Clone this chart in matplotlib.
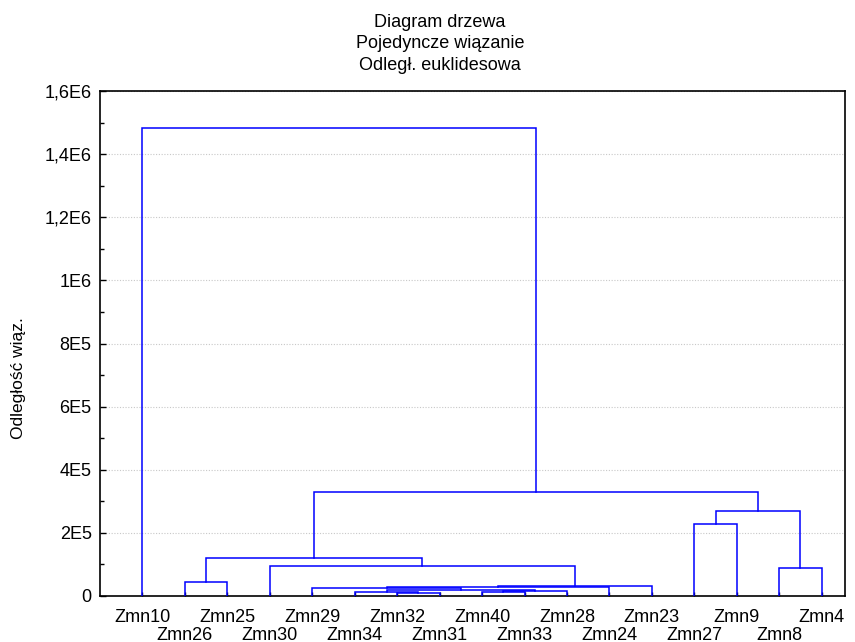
import matplotlib
matplotlib.use("Agg")
import matplotlib.pyplot as plt

plt.rcParams['font.family'] = ['Liberation Sans', 'DejaVu Sans']

# leaf order along the x axis
leaves = ['Zmn10', 'Zmn26', 'Zmn25', 'Zmn30', 'Zmn29', 'Zmn34', 'Zmn32', 'Zmn31',
          'Zmn40', 'Zmn33', 'Zmn28', 'Zmn24', 'Zmn23', 'Zmn27', 'Zmn9', 'Zmn8', 'Zmn4']

# single linkage merges; clusters are named c0, c1, ... in merge order
link_left = ['Zmn32', 'Zmn40', 'Zmn34', 'c1', 'c2', 'Zmn29', 'c5', 'c6',
             'Zmn26', 'Zmn8', 'Zmn30', 'c8', 'Zmn27', 'c12', 'c11', 'Zmn10']
link_right = ['Zmn31', 'Zmn33', 'c0', 'Zmn28', 'c3', 'c4', 'Zmn24', 'Zmn23',
              'Zmn25', 'Zmn4', 'c7', 'c10', 'Zmn9', 'c9', 'c13', 'c14']
link_height = [1.0e4, 1.2e4, 1.4e4, 1.6e4, 1.9e4, 2.6e4, 2.9e4, 3.3e4,
               4.5e4, 9.0e4, 9.6e4, 1.21e5, 2.28e5, 2.69e5, 3.3e5, 1.483e6]

yticks = [0, 2e5, 4e5, 6e5, 8e5, 1e6, 1.2e6, 1.4e6, 1.6e6]
ytick_labels = ['0', '2E5', '4E5', '6E5', '8E5', '1E6', '1,2E6', '1,4E6', '1,6E6']

fig = plt.figure(figsize=(8.55, 6.42), dpi=100)
ax = fig.add_axes([100 / 855, 1 - 596 / 642, 745 / 855, 505 / 642])

# node positions: leaves at their index, height 0
pos = {name: (i, 0.0) for i, name in enumerate(leaves)}
for k, (l, r, h) in enumerate(zip(link_left, link_right, link_height)):
    xl, yl = pos[l]
    xr, yr = pos[r]
    ax.plot([xl, xl, xr, xr], [yl, h, h, yr], color='#0000FF', lw=1.1,
            solid_joinstyle='miter', zorder=3)
    pos['c%d' % k] = ((xl + xr) / 2, h)

ax.set_xlim(-1, 16.55)
ax.set_ylim(0, 1.6e6)

ax.set_yticks(yticks)
ax.set_yticklabels(ytick_labels, fontsize=13)
ax.set_yticks([v + 1e5 for v in yticks[:-1]], minor=True)
ax.tick_params(axis='y', which='major', direction='in', length=4, width=1, pad=6)
ax.tick_params(axis='y', which='minor', direction='in', length=3, width=1)

ax.set_xticks(range(len(leaves)))
ax.set_xticklabels(leaves, fontsize=13)
ax.tick_params(axis='x', direction='in', length=3, width=1, pad=9)
for t in ax.xaxis.get_major_ticks()[1::2]:
    t.set_pad(22)

ax.yaxis.grid(True, color='#c8c8c8', linestyle=(0, (1, 1.5)), lw=0.8)
ax.set_axisbelow(True)
for s in ax.spines.values():
    s.set_linewidth(1.2)

fig.text(18 / 855, 1 - 378 / 642, 'Odległość wiąz.', rotation=90,
         ha='center', va='center', fontsize=12.5)
fig.text(440 / 855, 1 - 44 / 642,
         'Diagram drzewa\nPojedyncze wiązanie\nOdległ. euklidesowa',
         ha='center', va='center', fontsize=13, linespacing=1.38)

fig.savefig('out.png', dpi=100)
